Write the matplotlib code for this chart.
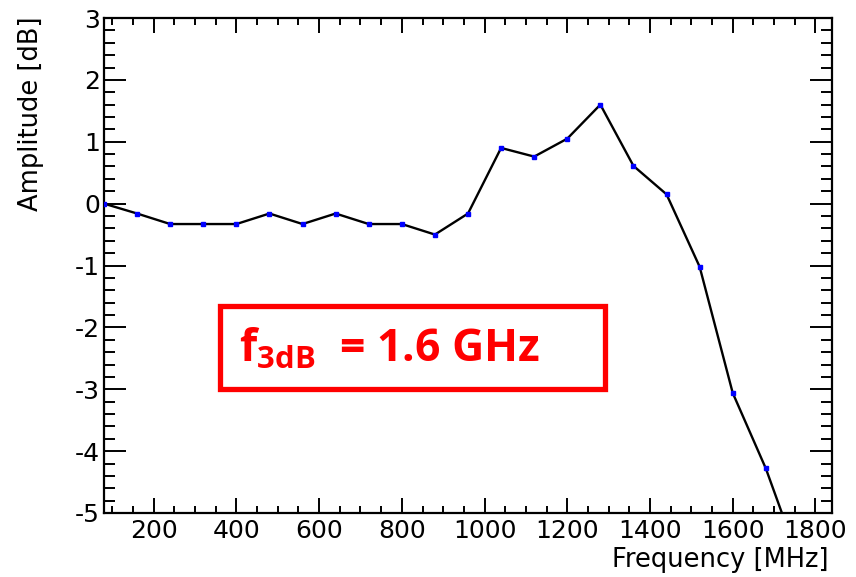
import numpy as np
import matplotlib
matplotlib.use("Agg")
import matplotlib.pyplot as plt
from matplotlib.patches import Rectangle
from matplotlib.ticker import MultipleLocator

# frequency response
freq = [80, 160, 240, 320, 400, 480, 560, 640, 720, 800, 880, 960,
        1040, 1120, 1200, 1280, 1360, 1440, 1520, 1600, 1680, 1760]
amp = [0.0, -0.16, -0.33, -0.33, -0.33, -0.16, -0.33, -0.16, -0.33, -0.33, -0.50, -0.16,
       0.90, 0.76, 1.05, 1.60, 0.61, 0.15, -1.02, -3.06, -4.28, -5.76]

plt.rcParams['font.family'] = ['DejaVu Sans']
plt.rcParams['axes.unicode_minus'] = False
plt.rcParams['mathtext.fontset'] = 'custom'
plt.rcParams['mathtext.rm'] = 'Open Sans:bold'
plt.rcParams['mathtext.bf'] = 'Open Sans:bold'

fig = plt.figure(figsize=(8.56, 5.77), dpi=100)
ax = fig.add_axes([104/856, 1-513/577, (832-104)/856, (513-18)/577])

ax.plot(freq, amp, color='black', lw=1.7, zorder=2)
ax.plot(freq, amp, ls='none', marker='s', ms=2.3, color='blue', mec='blue', zorder=3)

ax.set_xlim(80, 1840)
ax.set_ylim(-5, 3)
ax.xaxis.set_major_locator(MultipleLocator(200))
ax.xaxis.set_minor_locator(MultipleLocator(50))
ax.yaxis.set_major_locator(MultipleLocator(1))
ax.yaxis.set_minor_locator(MultipleLocator(0.2))

ax.tick_params(axis='both', which='both', direction='in', top=True, right=True,
               width=1.4, labelsize=18, color='black')
ax.tick_params(axis='x', which='major', length=10.8, pad=4)
ax.tick_params(axis='x', which='minor', length=5)
ax.tick_params(axis='y', which='major', length=16, pad=3)
ax.tick_params(axis='y', which='minor', length=8)
for s in ax.spines.values():
    s.set_linewidth(1.6)

# axis titles, ROOT style (right / top aligned)
fig.text(829/856, 1-560/577, 'Frequency [MHz]', fontsize=18.5, ha='right', va='center')
fig.text(31/856, 1-16/577, 'Amplitude [dB]', fontsize=18.5, rotation=90, ha='center', va='top')

# red annotation box
fig.patches.append(Rectangle((220/856, 1-389/577), (605-220)/856, (389-306)/577,
                             transform=fig.transFigure, fill=False,
                             edgecolor='red', lw=3.8))
fig.text(239/856, 1-350/577, r'$\mathrm{f_{3dB}}$  = 1.6 GHz', color='red',
         fontsize=32, fontweight='bold', family='Open Sans', va='center', ha='left')

fig.savefig('out.png', dpi=100)
